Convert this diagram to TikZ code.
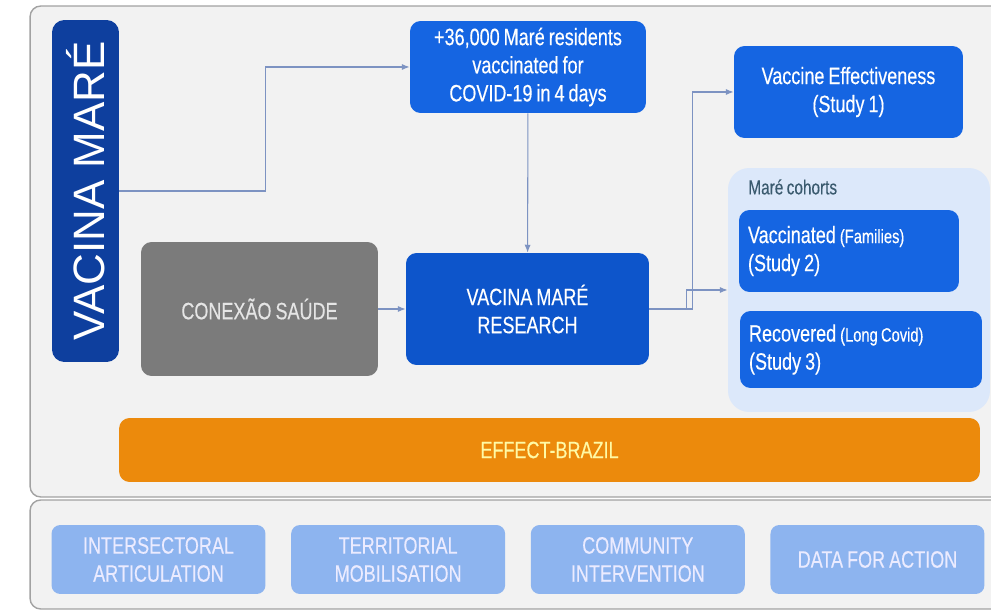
\documentclass[tikz,border=0pt]{standalone}
\usepackage{fontspec}
\usepackage{tikz}
\setmainfont{Liberation Sans}
\newfontfamily\narrowfont[FakeStretch=0.76, FakeBold=0.3, WordSpace=0.8]{Liberation Sans}
\usetikzlibrary{arrows.meta, positioning, calc}

\definecolor{barblue}{HTML}{0E3F9E}
\definecolor{boxblue}{HTML}{1565E2}
\definecolor{resblue}{HTML}{0D55CB}
\definecolor{boxgray}{HTML}{7B7B7B}
\definecolor{cohortbg}{HTML}{DCE8FA}
\definecolor{effectorange}{HTML}{EC8A0C}
\definecolor{pillarblue}{HTML}{8DB4EF}
\definecolor{panelgray}{HTML}{F2F2F2}
\definecolor{panelline}{HTML}{A2A2A2}
\definecolor{linkblue}{HTML}{7D93C2}
\definecolor{cohorttext}{HTML}{3A5A6E}

\begin{document}
\begin{tikzpicture}[
    x=0.02cm, y=-0.02cm,
    txt/.style={font=\narrowfont\fontsize{13.5}{16}\selectfont},
    panel/.style={rectangle, draw=panelline, fill=panelgray, rounded corners=6pt, line width=0.8pt},
    bluebox/.style={rectangle, rounded corners=6pt, fill=boxblue, text=white, txt, align=center},
    studybox/.style={rectangle, rounded corners=6pt, fill=boxblue, text=white, txt, align=flush left, inner sep=0.18cm},
    pillar/.style={rectangle, rounded corners=5pt, fill=pillarblue, text=white!92!blue, txt, align=center, minimum width=4.28cm, minimum height=1.38cm},
    link/.style={draw=linkblue, line width=0.6pt, -{Latex[length=4.5pt,width=3.5pt]}}
]
    \useasboundingbox (0,0) rectangle (991,611);
    \clip (0,0) rectangle (991,611);

    % Panels
    \node[panel, minimum width=19.6cm, minimum height=9.82cm] (upper) at (520,251.5) {};
    \node[panel, minimum width=19.6cm, minimum height=2.18cm] (lower) at (520,554.5) {};

    % Left bar
    \node[rectangle, rounded corners=7pt, fill=barblue, text=white, minimum width=1.34cm, minimum height=6.84cm, font=\fontsize{25}{28}\selectfont] (vac) at (85.5,191) {\rotatebox{90}{VACINA MARÉ}};

    % Main boxes
    \node[bluebox, minimum width=4.72cm, minimum height=1.84cm] (top) at (528,67) {+36,000 Maré residents\\vaccinated for\\COVID-19 in 4 days};
    \node[bluebox, fill=resblue, minimum width=4.86cm, minimum height=2.24cm] (research) at (527.5,309) {VACINA MARÉ\\RESEARCH};
    \node[bluebox, fill=boxgray, text=white!90!black, minimum width=4.74cm, minimum height=2.68cm] (conexao) at (259.5,309) {CONEXÃO SAÚDE};
    \node[bluebox, minimum width=4.58cm, minimum height=1.84cm] (study1) at (848.5,92) {Vaccine Effectiveness\\(Study 1)};

    % Cohorts
    \node[rectangle, rounded corners=12pt, fill=cohortbg, minimum width=5.24cm, minimum height=4.88cm] (cohorts) at (859,290) {};
    \node[anchor=west, text=cohorttext, font=\narrowfont\fontsize{11.5}{13}\selectfont, inner sep=0pt] (cohortlabel) at (748,187) {Maré cohorts};
    \node[studybox, minimum width=4.4cm, minimum height=1.64cm, text width=4.04cm] (vacc) at (849,251) {Vaccinated {\fontsize{11}{13}\selectfont(Families)}\\(Study 2)};
    \node[studybox, minimum width=4.84cm, minimum height=1.54cm, text width=4.48cm] (recov) at (861,349.5) {Recovered {\fontsize{11}{13}\selectfont(Long Covid)}\\(Study 3)};

    % Effect bar
    \node[rectangle, rounded corners=6pt, fill=effectorange, text=yellow!35!white, txt, minimum width=17.22cm, minimum height=1.28cm] (effect) at (549.5,450) {EFFECT-BRAZIL};

    % Pillars
    \node[pillar] (p1) at (158.5,559.5) {INTERSECTORAL\\ARTICULATION};
    \node[pillar, right=0.5cm of p1] (p2) {TERRITORIAL\\MOBILISATION};
    \node[pillar, right=0.5cm of p2] (p3) {COMMUNITY\\INTERVENTION};
    \node[pillar, right=0.5cm of p3] (p4) {DATA FOR ACTION};

    % Arrows
    \draw[link] (vac.east) -- ++(146,0) |- (top.west);
    \draw[link] (top) -- (research);
    \draw[link] (conexao) -- (research);
    \draw[link] (research.east) -- ++(43,0) |- (study1.west);
    \draw[link] (research.east) -- ++(37,0) |- (cohorts.west);
\end{tikzpicture}
\end{document}
